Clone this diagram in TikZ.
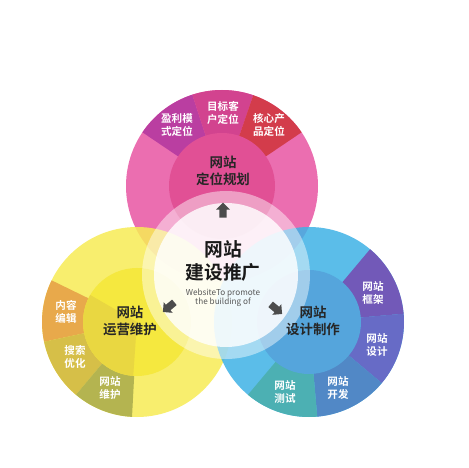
\documentclass[tikz,border=0pt]{standalone}
\usepackage{fontspec}
\usetikzlibrary{shapes.arrows}
\newfontfamily\cjk{Noto Sans CJK SC}[BoldFont={Noto Sans CJK SC Bold}]
\definecolor{pink_ring}{HTML}{EA62AA}
\definecolor{pink_core}{HTML}{DF428D}
\definecolor{pink_a}{HTML}{B52E9A}
\definecolor{pink_b}{HTML}{CF3486}
\definecolor{pink_c}{HTML}{D02C3C}
\definecolor{yellow_ring}{HTML}{F7EC55}
\definecolor{yellow_core}{HTML}{F4E41E}
\definecolor{yellow_gold}{HTML}{E6D020}
\definecolor{yellow_a}{HTML}{E59A2C}
\definecolor{yellow_b}{HTML}{CFB428}
\definecolor{yellow_c}{HTML}{A8A832}
\definecolor{blue_ring}{HTML}{3FB2E6}
\definecolor{blue_core}{HTML}{3896D6}
\definecolor{blue_a}{HTML}{5A3CAC}
\definecolor{blue_b}{HTML}{4D52BD}
\definecolor{blue_c}{HTML}{3374BD}
\definecolor{blue_d}{HTML}{2DA3A6}
\tikzset{
        treenode/.style={align=center,inner sep=0pt},
        % Labels on the coloured outer rings
        node_ring/.style={treenode, white, font=\cjk\bfseries\fontsize{9}{11}\selectfont},
        % Labels of the three circles
        node_main/.style={treenode, black!85, font=\cjk\bfseries\fontsize{11.5}{14}\selectfont},
        % Label of the centre
        node_centre/.style={treenode, black!90, font=\cjk\bfseries\fontsize{16}{20}\selectfont},
        node_english/.style={treenode, black!65, font=\cjk\fontsize{7}{8}\selectfont},
        % Block arrows
        node_arrow/.style={single arrow, fill=black!70, inner sep=0.1cm, minimum height=0.45cm,
            single arrow head extend=0.1cm, single arrow head indent=0cm}
}
\begin{document}
\begin{tikzpicture}[x=0.03cm, y=0.03cm]
            \fill[white] (0,0) rectangle (469,467);
            \useasboundingbox (0,0) rectangle (469,467);
            \coordinate (c_pink) at (222,281);
            \coordinate (c_yellow) at (137,145);
            \coordinate (c_blue) at (309,145);
            \coordinate (c_centre) at (226,192);
            % Pink circle
            \begin{scope}[transparency group, opacity=0.92]
                \fill[pink_ring] (c_pink) circle[radius=96];
                \foreach \a/\b/\c in {108/146/pink_a, 71/108/pink_b, 34/71/pink_c}
                    \fill[\c] (c_pink) -- ++(\a:96) arc[start angle=\a, end angle=\b, radius=96] -- cycle;
                \fill[pink_core] (c_pink) circle[radius=53];
            \end{scope}
            % Yellow circle
            \begin{scope}[transparency group, opacity=0.85]
                \fill[yellow_ring] (c_yellow) circle[radius=95];
                \foreach \a/\b/\c in {154/192/yellow_a, 192/230/yellow_b, 230/267/yellow_c}
                    \fill[\c] (c_yellow) -- ++(\a:95) arc[start angle=\a, end angle=\b, radius=95] -- cycle;
                \fill[yellow_core] (c_yellow) circle[radius=54];
                \fill[yellow_gold] (c_yellow) -- ++(150:54) arc[start angle=150, end angle=266, radius=54] -- cycle;
            \end{scope}
            % Blue circle
            \begin{scope}[transparency group, opacity=0.85]
                \fill[blue_ring] (c_blue) circle[radius=95];
                \foreach \a/\b/\c in {5/50/blue_a, -40/5/blue_b, -85/-40/blue_c, -130/-85/blue_d}
                    \fill[\c] (c_blue) -- ++(\a:95) arc[start angle=\a, end angle=\b, radius=95] -- cycle;
                \fill[blue_core] (c_blue) circle[radius=52];
            \end{scope}
            % White centre
            \fill[white, opacity=0.45] (c_centre) circle[radius=84];
            \fill[white, opacity=0.82] (c_centre) circle[radius=72];

            \node[node_ring] (profit) at (177,342) {盈利模\\式定位};
            \node[node_ring] (client) at (223,354) {目标客\\户定位};
            \node[node_ring] (product) at (269,342) {核心产\\品定位};
            \node[node_ring] (content) at (66,155) {内容\\编辑};
            \node[node_ring] (search) at (75,110) {搜索\\优化};
            \node[node_ring] (upkeep) at (110,79) {网站\\维护};
            \node[node_ring] (frame) at (373,174) {网站\\框架};
            \node[node_ring] (design) at (377,122) {网站\\设计};
            \node[node_ring] (develop) at (338,79) {网站\\开发};
            \node[node_ring] (testing) at (285,75) {网站\\测试};

            \node[node_main] (plan) at (223,296) {网站\\定位规划};
            \node[node_main] (operate) at (130,146) {网站\\运营维护};
            \node[node_main] (make) at (313,146) {网站\\设计制作};
            \node[node_centre] (build) at (223,206) {网站\\建设推广};
            \node[node_english] (english) at (223,169) {WebsiteTo promote\\the building of};

            \node[node_arrow, rotate=90] (arrow_plan) at (223,255) {};
            \node[node_arrow, rotate=-140] (arrow_operate) at (170,161) {};
            \node[node_arrow, rotate=-40] (arrow_make) at (275,159) {};
        \end{tikzpicture}
\end{document}
